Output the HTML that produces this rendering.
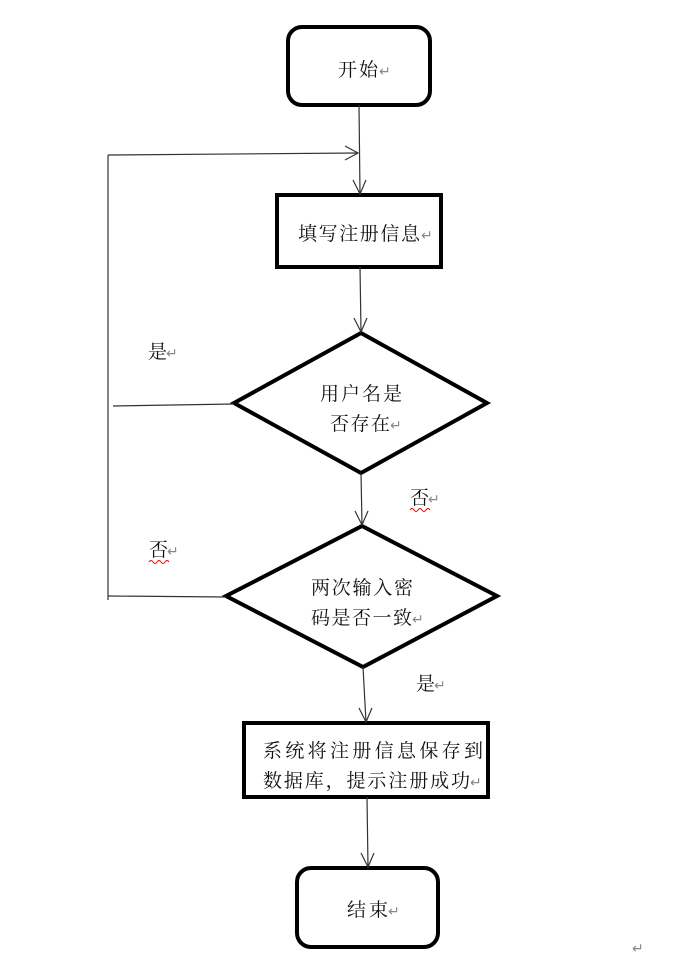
<!DOCTYPE html>
<html><head><meta charset="utf-8"><style>
html,body{margin:0;padding:0;background:#fff;}
svg{display:block;}
text{font-family:"Liberation Serif","Noto Serif CJK SC","Noto Sans CJK SC",serif;font-size:19px;fill:#111;}
.r{fill:#888;font-size:14px;font-family:"DejaVu Sans",sans-serif;}
</style></head><body>
<svg width="693" height="966" viewBox="0 0 693 966" xmlns="http://www.w3.org/2000/svg">
<g fill="none" stroke="#000" stroke-width="4">
<rect x="288" y="27" width="142" height="78" rx="14"/>
<rect x="277" y="195" width="164" height="72"/>
<polygon points="361,333 487,403 361,473 234,403"/>
<polygon points="362,526 497,596 363,667 226,596"/>
<rect x="244" y="723" width="244" height="74"/>
<rect x="297" y="868" width="141" height="79" rx="14"/>
</g>
<g fill="none" stroke="#333" stroke-width="1.2">
<line x1="359" y1="105" x2="360" y2="194"/>
<polyline points="353,180 360,194 366,180"/>
<line x1="108" y1="155" x2="358" y2="153"/>
<polyline points="345,146 358,153 345,160"/>
<line x1="108" y1="155" x2="108" y2="600"/>
<line x1="113" y1="406" x2="234" y2="404"/>
<line x1="108" y1="596" x2="226" y2="597"/>
<line x1="360" y1="267" x2="361" y2="332"/>
<polyline points="354,318 361,332 367,318"/>
<line x1="361" y1="473" x2="362" y2="525"/>
<polyline points="355,511 362,525 368,511"/>
<line x1="363" y1="667" x2="366" y2="722"/>
<polyline points="359,708 366,722 372,708"/>
<line x1="367" y1="797" x2="368" y2="867"/>
<polyline points="361,853 368,867 374,853"/>
</g>
<text x="338" y="76" textLength="40">开始</text><text class="r" x="379" y="76">↵</text>
<text x="298" y="240" textLength="122">填写注册信息</text><text class="r" x="421" y="240">↵</text>
<text x="320" y="400" textLength="82">用户名是</text>
<text x="330" y="430" textLength="60">否存在</text><text class="r" x="390" y="430">↵</text>
<text x="311" y="594" textLength="102">两次输入密</text>
<text x="311" y="624" textLength="101">码是否一致</text><text class="r" x="412" y="624">↵</text>
<text x="263" y="757" textLength="220">系统将注册信息保存到</text>
<text x="263" y="787" textLength="207">数据库，提示注册成功</text><text class="r" x="470" y="787">↵</text>
<text x="347" y="916" textLength="41">结束</text><text class="r" x="388" y="916">↵</text>
<text x="148" y="358">是</text><text class="r" x="166" y="358">↵</text>
<text x="410" y="504">否</text><text class="r" x="428" y="504">↵</text>
<text x="149" y="556">否</text><text class="r" x="167" y="556">↵</text>
<text x="416" y="690">是</text><text class="r" x="434" y="690">↵</text>
<text class="r" x="632" y="953">↵</text>
<path d="M410,510 q2,-3 4,0 t4,0 t4,0 t4,0 t4,0" stroke="#e00" fill="none" stroke-width="1"/>
<path d="M149,562 q2,-3 4,0 t4,0 t4,0 t4,0 t4,0" stroke="#e00" fill="none" stroke-width="1"/>
</svg>
</body></html>
